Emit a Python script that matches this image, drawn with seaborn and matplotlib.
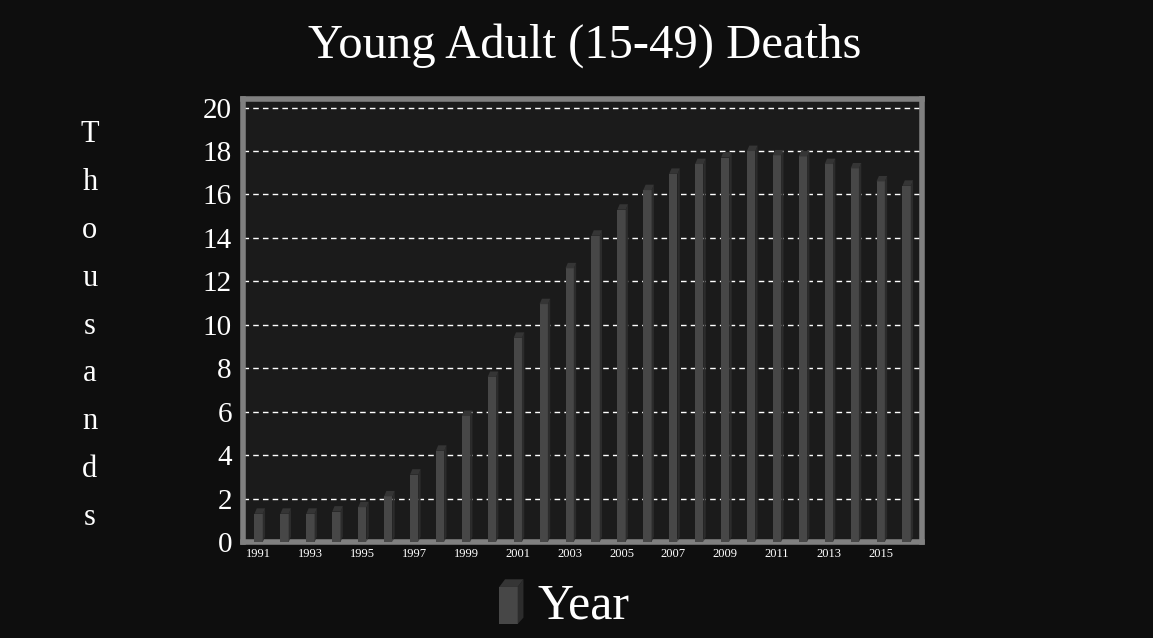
import numpy as np
import pandas as pd
import seaborn as sns
import matplotlib.pyplot as plt
from matplotlib.patches import Polygon, Rectangle

years = list(range(1991, 2017))
deaths = [1.3, 1.3, 1.3, 1.4, 1.6, 2.1, 3.1, 4.2, 5.8, 7.6, 9.4, 10.95, 12.6,
          14.1, 15.3, 16.2, 16.95, 17.4, 17.7, 18.0, 17.8, 17.75, 17.4, 17.2,
          16.6, 16.4]
year_labels = [str(y) if y % 2 == 1 else "" for y in years]
y_ticks = list(range(0, 21, 2))

df = pd.DataFrame({"year": [str(y) for y in years], "deaths": deaths})

sns.set_style("dark")
plt.rcParams['font.family'] = ['Liberation Serif', 'DejaVu Serif']

bg = "#0e0e0e"
panel = "#1b1b1b"
bar_col = "#474747"
side_col = "#2c2c2c"
top_col = "#353535"
wall = "#808080"

fig = plt.figure(figsize=(11.53, 6.38), dpi=100, facecolor=bg)
ax = fig.add_axes([0.2108, 0.1505, 0.589, 0.6945])
ax.set_facecolor(panel)

sns.barplot(data=df, x="year", y="deaths", color=bar_col, width=0.32,
            saturation=1, ax=ax, zorder=3, edgecolor="none", linewidth=0)

# fake 3d side + cap on each bar
dx, dy = 0.09, 0.25
for p in list(ax.patches):
    x0, w, h = p.get_x(), p.get_width(), p.get_height()
    side = Polygon([[x0 + w, 0], [x0 + w + dx, dy], [x0 + w + dx, h + dy], [x0 + w, h]],
                   closed=True, facecolor=side_col, edgecolor="none", zorder=3)
    cap = Polygon([[x0, h], [x0 + dx, h + dy], [x0 + w + dx, h + dy], [x0 + w, h]],
                  closed=True, facecolor=top_col, edgecolor="none", zorder=3)
    ax.add_patch(side)
    ax.add_patch(cap)

ax.set_ylim(0, 20.4)
ax.set_xlim(-0.6, len(years) - 0.4)
ax.set_yticks(y_ticks)
ax.set_yticklabels([str(t) for t in y_ticks], color="white", fontsize=21)
ax.set_xticks(np.arange(len(years)))
ax.set_xticklabels(year_labels, color="white", fontsize=9)
ax.set_xticks(np.arange(len(years) + 1) - 0.5, minor=True)
ax.tick_params(axis="x", which="major", length=0, pad=4)
ax.tick_params(axis="x", which="minor", length=5, color="white", width=1.5)
ax.tick_params(axis="y", length=5, color="white", width=1.5, pad=3)

ax.grid(axis="y", color="white", linestyle=(0, (4, 3)), linewidth=1, zorder=1)
ax.grid(axis="x", visible=False)
ax.set_xlabel("")
ax.set_ylabel("")

for s in ["left", "top", "right", "bottom"]:
    ax.spines[s].set_visible(True)
    ax.spines[s].set_color(wall)
    ax.spines[s].set_linewidth(4)

fig.text(0.507, 0.928, "Young Adult (15-49) Deaths", color="white",
         fontsize=35, ha="center", va="center")

fig.text(0.078, 0.489, "\n".join("Thousands"), color="white", fontsize=22,
         ha="center", va="center", linespacing=1.86)

# legend entry at the bottom
fig.patches.append(Rectangle((0.433, 0.022), 0.016, 0.058, transform=fig.transFigure,
                             facecolor=bar_col, edgecolor="none"))
fig.patches.append(Polygon([[0.449, 0.022], [0.454, 0.032], [0.454, 0.092], [0.449, 0.080]],
                           closed=True, transform=fig.transFigure, facecolor=side_col,
                           edgecolor="none"))
fig.patches.append(Polygon([[0.433, 0.080], [0.438, 0.092], [0.454, 0.092], [0.449, 0.080]],
                           closed=True, transform=fig.transFigure, facecolor=top_col,
                           edgecolor="none"))
fig.text(0.466, 0.05, "Year", color="white", fontsize=36, ha="left", va="center")

fig.savefig("out.png", dpi=100, facecolor=bg)
